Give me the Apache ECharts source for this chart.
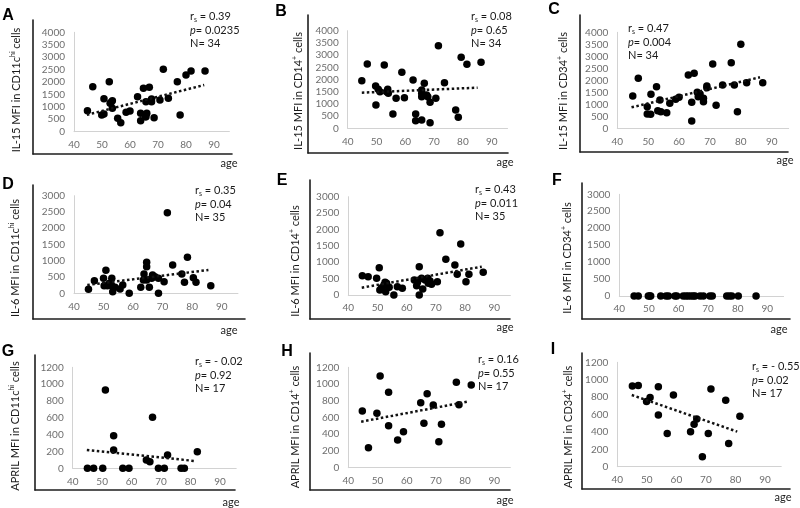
<!DOCTYPE html>
<html><head><meta charset="utf-8">
<script src="https://cdn.jsdelivr.net/npm/echarts@6/dist/echarts.min.js"></script>
<style>html,body{margin:0;padding:0;background:#fff}#c{width:800px;height:508px}</style>
</head><body><div id="c"></div>
<script>
// ---------- tick labels ----------
const ageTicks = [40, 50, 60, 70, 80, 90];
const yTicksIL15 = [0, 500, 1000, 1500, 2000, 2500, 3000, 3500, 4000];
const yTicksIL6 = [0, 500, 1000, 1500, 2000, 2500, 3000];
const yTicksAPRIL = [0, 200, 400, 600, 800, 1000, 1200];

// ---------- data (age, MFI) ----------
const A_age = [44.8,46.7,49.9,50.7,50.7,52.6,52.9,53.7,53.7,55.6,56.7,58.6,60,62.7,63.8,63.8,64.8,65.7,66,65.7,66.9,67.7,67.7,68.6,70.7,71.9,73.7,76.9,77.9,80,81.8,86.8,65.5,53.2];
const A_mfi = [845,1812,670,710,1330,2013,1140,1250,940,537,362,780,830,1410,443,738,1745,604,740,1208,1785,1315,1208,564,1275,2510,1342,2013,670,2280,2440,2440,600,1180];
const A_trend = [[44.6, 680], [86.5, 1880]];

const B_age = [44.9,46.8,49.7,49.8,50.6,51.2,52.7,53.5,53.9,54.1,55.7,56.8,59.7,58.8,62.7,63.6,63.6,65.7,65.7,65.7,66.6,67.4,67.8,68.6,68.6,70.6,71.5,73.6,77.5,78.4,79.4,81.4,86.3,65.7];
const B_mfi = [1952,2634,1734,955,1597,1500,2594,1500,1597,1433,587,1228,1256,2293,1979,587,314,1570,1297,341,1843,1365,1297,1065,232,1228,3385,1870,750,450,2907,2620,2702,1433];
const B_trend = [[44.9, 1460], [85.1, 1665]];

const C_age = [45,46.8,49.7,49.7,50.8,50.9,52.7,53.1,53.8,54.1,56,57,58.9,60,63,64.1,64.1,64.9,65.9,66.2,66.8,67.9,67.9,69,69,70.9,72,74.1,76.9,77.9,78.9,80,81.9,87.1];
const C_mfi = [1347,2083,903,597,583,1417,1736,736,1181,694,653,1042,1208,1292,2222,1083,306,2292,1500,1319,1431,1250,1111,1764,1694,2681,958,1806,2736,1806,694,3500,1903,1903];
const C_trend = [[44.6, 875], [86.2, 2125]];

const D_age = [44.9,46.9,50,50.2,50.8,51.3,52,52.8,52.8,53.1,53.9,55.6,56.5,58.7,62.6,63.5,63.7,64.6,64.6,64.6,65.5,66.3,66.6,67.4,68.6,68.6,70.5,71.6,73.4,76.5,77.4,78.4,80.4,81.3,86.3];
const D_mfi = [123,389,461,235,706,235,307,461,235,51,184,133,256,0,184,410,594,952,819,410,184,461,563,512,461,0,358,2478,870,594,338,1106,481,338,235];
const D_trend = [[44.5, 256], [85.5, 717]];

const E_age = [44.8,46.8,49.7,50.6,50.8,51.4,52.2,52.6,52.8,53.1,54,55.6,56.8,58.5,62.6,63.4,63.7,64.3,64.3,65.1,65.5,66.3,67.2,67.4,68,68.5,70.5,71.4,73.4,76.5,77.3,78.5,80.3,81.3,86.2];
const E_mfi = [590,559,508,834,153,224,305,386,102,356,234,0,254,203,458,285,386,864,0,508,183,458,508,356,427,325,407,1902,1088,915,630,1556,407,630,691];
const E_trend = [[44.6, 224], [85.7, 864]];

const F_age = [45,46.4,49.8,50.3,50.6,54,55.8,56.6,58.8,59.4,61.6,62.5,63.3,64.2,65,65.6,67.3,68.4,70.6,71.4,76.3,77.2,78,80.2,86.2];
const F_mfi = [0,0,0,0,0,0,0,0,0,0,0,0,0,0,0,0,0,0,0,0,0,0,0,0,0];

const G_age = [45,47.1,50.2,51.1,53.9,53.9,57,59.1,65,66.2,67.1,69.1,71.1,72.2,76.8,77.9,82.3];
const G_mfi = [0,0,0,931,388,218,0,0,99,79,606,0,0,158,0,0,198];
const G_trend = [[44.8, 218], [81.4, 87]];

const H_age = [44.8,46.9,49.8,50.9,53.8,53.8,56.9,58.9,64.8,65.9,67,69.1,71,71.9,77,77.9,82.1];
const H_mfi = [678,239,650,1096,901,502,331,431,777,530,885,750,311,518,1021,753,989];
const H_trend = [[44.4, 550], [80.8, 789]];

const I_age = [45.1,47.1,49.9,51.1,53.9,53.9,56.9,59,64.8,66,66.9,68.8,70.8,71.7,76.7,77.7,81.5];
const I_mfi = [928,932,748,794,920,594,383,824,403,487,548,115,383,893,763,268,579];
const I_trend = [[44.9, 824], [80.6, 403]];

// ---------- panel texts ----------
const panels = [
  {id:'A', age:A_age, mfi:A_mfi, trend:A_trend, yt:yTicksIL15, title:['IL-15 MFI in CD11c','hi',' cells'], stats:['0.39','0.0235','34']},
  {id:'B', age:B_age, mfi:B_mfi, trend:B_trend, yt:yTicksIL15, title:['IL-15 MFI in CD14','+',' cells'], stats:['0.08','0.65','34']},
  {id:'C', age:C_age, mfi:C_mfi, trend:C_trend, yt:yTicksIL15, title:['IL-15 MFI in CD34','+',' cells'], stats:['0.47','0.004','34']},
  {id:'D', age:D_age, mfi:D_mfi, trend:D_trend, yt:yTicksIL6, title:['IL-6 MFI in CD11c','hi',' cells'], stats:['0.35','0.04','35']},
  {id:'E', age:E_age, mfi:E_mfi, trend:E_trend, yt:yTicksIL6, title:['IL-6 MFI in CD14','+',' cells'], stats:['0.43','0.011','35']},
  {id:'F', age:F_age, mfi:F_mfi, trend:null, yt:yTicksIL6, title:['IL-6 MFI in CD34','+',' cells'], stats:null},
  {id:'G', age:G_age, mfi:G_mfi, trend:G_trend, yt:yTicksAPRIL, title:['APRIL MFI in CD11c','hi',' cells'], stats:['- 0.02','0.92','17']},
  {id:'H', age:H_age, mfi:H_mfi, trend:H_trend, yt:yTicksAPRIL, title:['APRIL MFI in CD14','+',' cells'], stats:['0.16','0.55','17']},
  {id:'I', age:I_age, mfi:I_mfi, trend:I_trend, yt:yTicksAPRIL, title:['APRIL MFI in CD34','+',' cells'], stats:['- 0.55','0.02','17']}
];

// ---------- layout (pixels) ----------
const inner = [
  [74,214,32.3,131.7],[347.7,491.7,30.7,128.3],[617.3,771.7,32.3,128.3],
  [74,221.7,195.7,293.3],[348.3,494.3,196.7,295],[619.3,767.3,194.3,296],
  [72.7,220,367.3,468.3],[348.3,494.3,367.3,467.7],[617.3,765,362.3,466.7]
];
const outer = [
  [33,20,232,154],[308,15,508,153],[580,15,788,152],
  [33,185,245,319],[310,180,510,319],[582,183,790,319],
  [35,355,235,490],[310,353,510,490],[582,353,790,489]
];
const letterPos = [[8,16],[281,12],[554,10],[8,185],[282,181],[557,181],[8,352],[287,352],[553,350]];
const titlePos = [[16,90],[298,91],[563,91],[15,258],[295,261],[567,258],[15,426],[295,427],[568,427]];
const agePos = [[229,163],[505,162],[785,160],[229,330],[505,327],[779,329],[231,502],[505,500],[783,497]];
const statPos = [[190,10],[471,10],[628,22],[195,184],[475,183],null,[195,355],[478,353],[752,360]];

const FONT = 'Lato, "Liberation Sans", Arial, sans-serif';
const XMAX = 95.5;

const grids = [], xAxes = [], yAxes = [], series = [], graphics = [];

panels.forEach((p, i) => {
  const [x40, x90, yT, yB] = inner[i];
  grids.push({left: x40, top: yT, width: (x90 - x40) * (XMAX - ageTicks[0]) / (ageTicks[ageTicks.length-1] - ageTicks[0]), height: yB - yT});
  xAxes.push({gridIndex: i, type: 'value', min: ageTicks[0], max: XMAX, interval: ageTicks[1] - ageTicks[0],
    axisLine: {show: true, onZero: false, lineStyle: {color: '#d2d2d2', width: 1}},
    axisTick: {show: false}, splitLine: {show: false},
    axisLabel: {color: '#6e6e6e', fontSize: 10, fontFamily: FONT, margin: 8, showMaxLabel: false, formatter: v => String(v)}});
  yAxes.push({gridIndex: i, type: 'value', min: p.yt[0], max: p.yt[p.yt.length-1], interval: p.yt[1] - p.yt[0],
    axisLine: {show: true, lineStyle: {color: '#d2d2d2', width: 1}},
    axisTick: {show: false}, splitLine: {show: false},
    axisLabel: {color: '#6e6e6e', fontSize: 10, fontFamily: FONT, margin: 9, formatter: v => String(v)}});
  series.push({type: 'scatter', xAxisIndex: i, yAxisIndex: i, symbolSize: 7.5,
    itemStyle: {color: '#000', opacity: 1}, data: p.age.map((a, k) => [a, p.mfi[k]]), z: 3, silent: true});
  if (p.trend) {
    series.push({type: 'line', xAxisIndex: i, yAxisIndex: i, data: p.trend, symbol: 'none', silent: true, z: 4,
      lineStyle: {color: '#111', width: 2.5, type: [2.5, 2.5], cap: 'butt'}});
  }
});

outer.forEach((o, i) => {
  grids.push({left: o[0], top: o[1], width: o[2] - o[0], height: o[3] - o[1]});
  const ax = {gridIndex: 9 + i, type: 'value', min: 0, max: 1,
    axisLine: {show: true, onZero: false, lineStyle: {color: '#1e1e1e', width: 1.6}},
    axisTick: {show: false}, axisLabel: {show: false}, splitLine: {show: false}};
  xAxes.push(Object.assign({}, ax));
  yAxes.push(Object.assign({}, ax));
});

const richBase = {
  a: {fontSize: 11, fontFamily: FONT, fill: '#1a1a1a', lineHeight: 13.5},
  sup: {fontSize: 7, fontFamily: FONT, fill: '#1a1a1a', lineHeight: 8, verticalAlign: 'top'},
  sub: {fontSize: 7, fontFamily: FONT, fill: '#1a1a1a', lineHeight: 8, verticalAlign: 'bottom'},
  it: {fontSize: 11, fontFamily: FONT, fill: '#1a1a1a', lineHeight: 13.5, fontStyle: 'italic'}
};

panels.forEach((p, i) => {
  graphics.push({type: 'text', x: letterPos[i][0], y: letterPos[i][1],
    style: {text: p.id, fontSize: 16, fontWeight: 'bold', fontFamily: '"Liberation Sans", Arial, sans-serif', fill: '#000', align: 'center', verticalAlign: 'middle'}});
  graphics.push({type: 'text', x: titlePos[i][0], y: titlePos[i][1], rotation: Math.PI / 2,
    style: {text: '{a|' + p.title[0] + '}{sup|' + p.title[1] + '}{a|' + p.title[2] + '}', rich: richBase,
      align: 'center', verticalAlign: 'middle'}});
  graphics.push({type: 'text', x: agePos[i][0], y: agePos[i][1],
    style: {text: 'age', fontSize: 11, fontFamily: FONT, fill: '#1a1a1a', align: 'center', verticalAlign: 'middle'}});
  if (p.stats) {
    graphics.push({type: 'text', x: statPos[i][0], y: statPos[i][1],
      style: {text: '{a|r}{sub|s}{a| = ' + p.stats[0] + '}\n{it|p}{a|= ' + p.stats[1] + '}\n{a|N= ' + p.stats[2] + '}',
        rich: richBase, align: 'left', verticalAlign: 'top'}});
  }
});

const chart = echarts.init(document.getElementById('c'), null, {renderer: 'canvas'});
chart.setOption({
  animation: false,
  backgroundColor: '#fff',
  grid: grids, xAxis: xAxes, yAxis: yAxes, series: series, graphic: graphics
});
</script></body></html>
